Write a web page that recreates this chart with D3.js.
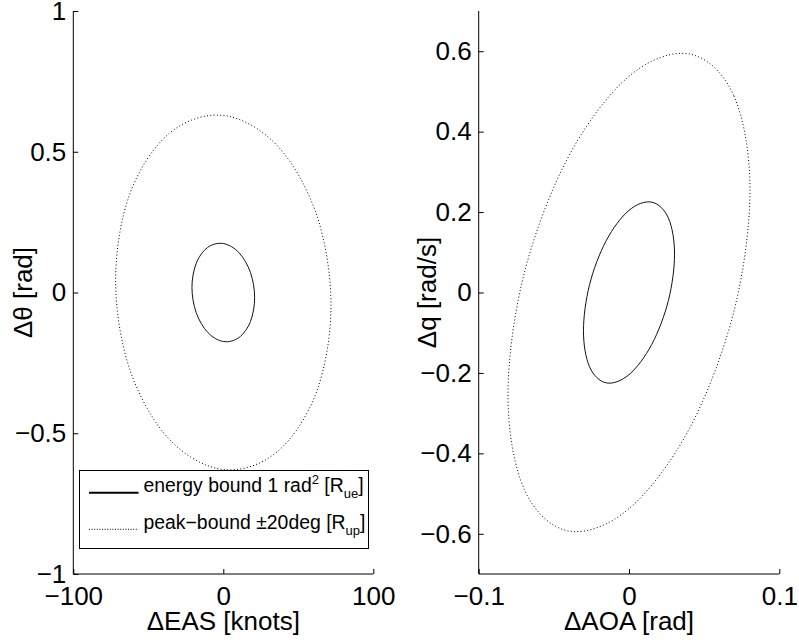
<!DOCTYPE html>
<html>
<head>
<meta charset="utf-8">
<script src="https://cdn.jsdelivr.net/npm/d3@7"></script>
<style>
  html, body { margin: 0; padding: 0; background: #fff; }
  svg { display: block; font-family: "Liberation Sans", Arial, Helvetica, sans-serif; }
</style>
</head>
<body>
<svg id="chart" width="799" height="643"></svg>
<script>
// Region boundaries around the trim point, sampled around each ellipse.
// Left panel: airspeed / pitch-angle plane.
const leftEnergyEAS   = [20.9, 18.1, 10.45, 0, -10.45, -18.1, -20.9, -18.1, -10.45, 0, 10.45, 18.1];
const leftEnergyTheta = [-0.018, 0.071, 0.1415, 0.174, 0.160, 0.103, 0.018, -0.071, -0.1415, -0.174, -0.160, -0.103];
const leftPeakEAS     = [71.8, 62.2, 35.9, 0, -35.9, -62.2, -71.8, -62.2, -35.9, 0, 35.9, 62.2];
const leftPeakTheta   = [-0.044, 0.276, 0.522, 0.629, 0.566, 0.352, 0.044, -0.276, -0.522, -0.629, -0.566, -0.352];

// Right panel: angle-of-attack / pitch-rate plane.
const rightEnergyAOA  = [0.0303, 0.02624, 0.01515, 0, -0.01515, -0.02624, -0.0303, -0.02624, -0.01515, 0, 0.01515, 0.02624];
const rightEnergyQ    = [0.0955, 0.1849, 0.2247, 0.2043, 0.1291, 0.0195, -0.0955, -0.1849, -0.2247, -0.2043, -0.1291, -0.0195];
const rightPeakAOA    = [0.0805, 0.0697, 0.04025, 0, -0.04025, -0.0697, -0.0805, -0.0697, -0.04025, 0, 0.04025, 0.0697];
const rightPeakQ      = [0.255, 0.4896, 0.593, 0.5376, 0.338, 0.048, -0.255, -0.4896, -0.593, -0.5376, -0.338, -0.048];

// Axis ticks
const leftXTicks  = [-100, 0, 100];
const leftYTicks  = [-1, -0.5, 0, 0.5, 1];
const rightXTicks = [-0.1, 0, 0.1];
const rightYTicks = [-0.6, -0.4, -0.2, 0, 0.2, 0.4, 0.6];

const svg = d3.select("#chart");
const fmt = d3.format("~g");

const yRange = [574, 11];
const panels = [
  {
    x: d3.scaleLinear([-100, 100], [73.3, 373.3]),
    y: d3.scaleLinear([-1, 1], yRange),
    xTicks: leftXTicks, yTicks: leftYTicks,
    xLabel: "ΔEAS [knots]", yLabel: "Δθ [rad]", yLabelX: 32,
    energy: leftEnergyEAS.map((v, i) => [v, leftEnergyTheta[i]]),
    peak: leftPeakEAS.map((v, i) => [v, leftPeakTheta[i]])
  },
  {
    x: d3.scaleLinear([-0.1, 0.1], [478.7, 779.3]),
    y: d3.scaleLinear([-0.7, 0.7], yRange),
    xTicks: rightXTicks, yTicks: rightYTicks,
    xLabel: "ΔAOA [rad]", yLabel: "Δq [rad/s]", yLabelX: 436,
    energy: rightEnergyAOA.map((v, i) => [v, rightEnergyQ[i]]),
    peak: rightPeakAOA.map((v, i) => [v, rightPeakQ[i]])
  }
];

const curve = d3.curveCardinalClosed.tension(0);

panels.forEach(p => {
  const g = svg.append("g");
  const line = d3.line().x(d => p.x(d[0])).y(d => p.y(d[1])).curve(curve);

  // peak-bound region (dotted)
  g.append("path")
    .attr("d", line(p.peak))
    .attr("fill", "none")
    .attr("stroke", "#000")
    .attr("stroke-width", 1)
    .attr("stroke-dasharray", "1 2.3");

  // energy-bound region (solid)
  g.append("path")
    .attr("d", line(p.energy))
    .attr("fill", "none")
    .attr("stroke", "#111")
    .attr("stroke-width", 1);

  const xAxis = d3.axisBottom(p.x).tickValues(p.xTicks).tickFormat(fmt)
    .tickSizeInner(-5).tickSizeOuter(0).tickPadding(13);
  const yAxis = d3.axisLeft(p.y).tickValues(p.yTicks).tickFormat(fmt)
    .tickSizeInner(-5).tickSizeOuter(0).tickPadding(7);

  const gx = g.append("g").attr("transform", `translate(0,${yRange[0]})`).call(xAxis);
  const gy = g.append("g").attr("transform", `translate(${p.x.range()[0]},0)`).call(yAxis);
  [gx, gy].forEach(a => {
    a.selectAll("text").attr("font-size", 26).attr("fill", "#000")
      .attr("font-family", "Liberation Sans, Arial, sans-serif");
    a.selectAll("line, path").attr("stroke", "#000");
  });
  // the vertical domain line runs the full height of the plot area
  gy.select(".domain").attr("d", `M0,${yRange[0]}V${yRange[1]}`);
  gx.select(".domain").attr("d", `M${p.x.range()[0]},0H${p.x.range()[1]}`);

  // axis titles
  const xMid = (p.x.range()[0] + p.x.range()[1]) / 2;
  g.append("text")
    .attr("x", xMid).attr("y", 630)
    .attr("text-anchor", "middle")
    .attr("font-size", 26)
    .text(p.xLabel);
  const yMid = (yRange[0] + yRange[1]) / 2;
  g.append("text")
    .attr("transform", `translate(${p.yLabelX},${yMid}) rotate(-90)`)
    .attr("text-anchor", "middle")
    .attr("font-size", 26)
    .text(p.yLabel);
});

// Legend on the left panel
const legend = svg.append("g");
legend.append("rect")
  .attr("x", 79.5).attr("y", 470.5).attr("width", 289).attr("height", 78)
  .attr("fill", "#fff").attr("stroke", "#000").attr("stroke-width", 1);

const legendItems = [
  { y: 492.7, dash: null, width: 2, main: "energy bound 1 rad", sup: "2", sub: "ue" },
  { y: 529.3, dash: "1 1.6", width: 1, main: "peak−bound ±20deg", sup: null, sub: "up" }
];
legendItems.forEach(it => {
  legend.append("line")
    .attr("x1", 89).attr("x2", 138.5).attr("y1", it.y).attr("y2", it.y)
    .attr("stroke", "#000").attr("stroke-width", it.width)
    .attr("stroke-dasharray", it.dash);
  const t = legend.append("text")
    .attr("x", 143.5).attr("y", it.y - 0.5)
    .attr("font-size", 19.4);
  t.append("tspan").text(it.main);
  if (it.sup) t.append("tspan").attr("font-size", 13).attr("dy", -8).text(it.sup);
  t.append("tspan").attr("dy", it.sup ? 8 : 0).text(" [R");
  t.append("tspan").attr("font-size", 13).attr("dy", 6).text(it.sub);
  t.append("tspan").attr("dy", -6).text("]");
});
</script>
</body>
</html>
